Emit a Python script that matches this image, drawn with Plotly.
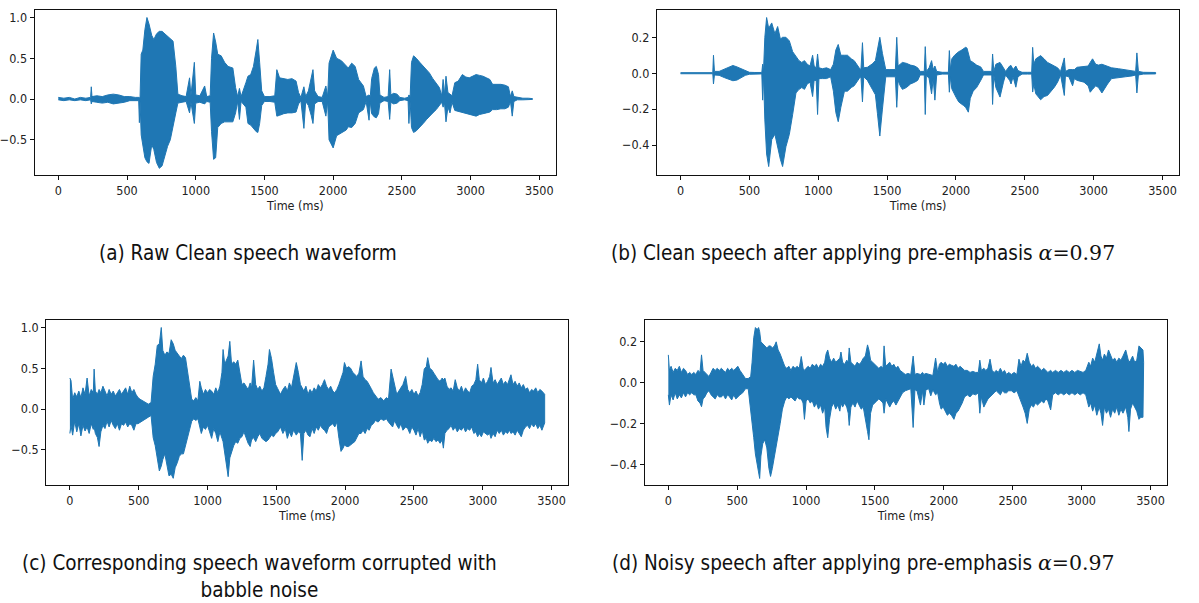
import plotly.graph_objects as go

BLUE = "#1f77b4"
W, H = 1199, 603

# ---------------------------------------------------------------------------
# Waveform envelopes: time (ms), upper peak and lower peak amplitude
# ---------------------------------------------------------------------------

# (a) raw clean speech
A_T = [0, 40, 80, 120, 160, 200, 235, 240, 245, 280, 320, 360, 400, 440, 480, 520, 560, 585, 590, 595,
       603, 615, 630, 645, 660, 680, 695, 715, 735, 755, 775, 795, 815, 835, 855, 870, 900, 930, 955, 965,
       990, 1000, 1030, 1065, 1080, 1105, 1115, 1130, 1145, 1160, 1185, 1210, 1235, 1270, 1290, 1305, 1318, 1330, 1365, 1380,
       1400, 1420, 1440, 1452, 1465, 1480, 1500, 1540, 1575, 1590, 1610, 1640, 1670, 1700, 1730, 1748, 1765, 1787, 1800, 1820,
       1840, 1853, 1865, 1890, 1920, 1947, 1960, 1970, 2000, 2025, 2060, 2095, 2110, 2135, 2160, 2185, 2220, 2240, 2261, 2270,
       2280, 2300, 2314, 2330, 2340, 2370, 2400, 2411, 2420, 2440, 2465, 2485, 2520, 2545, 2551, 2560, 2570, 2585, 2605, 2630,
       2655, 2680, 2700, 2725, 2750, 2773, 2790, 2800, 2810, 2821, 2835, 2850, 2865, 2885, 2910, 2940, 2965, 2990, 3015, 3040,
       3065, 3090, 3115, 3140, 3160, 3190, 3220, 3250, 3275, 3290, 3303, 3315, 3340, 3380, 3420, 3450]
A_HI = [0.02, 0.01, 0.02, 0.0, 0.02, 0.01, 0.02, 0.15, 0.03, 0.04, 0.03, 0.05, 0.06, 0.05, 0.03, 0.03, 0.02, 0.02, 0.02, 0.03,
        0.55, 0.60, 0.85, 1.0, 0.92, 0.78, 0.73, 0.80, 0.83, 0.83, 0.80, 0.77, 0.74, 0.71, 0.40, 0.06, 0.04, 0.03, 0.26, 0.04,
        0.45, 0.05, 0.04, 0.16, 0.03, 0.04, 0.50, 0.81, 0.70, 0.55, 0.53, 0.45, 0.40, 0.38, 0.14, 0.03, 0.13, 0.03, 0.20, 0.28,
        0.30, 0.40, 0.60, 0.73, 0.45, 0.10, 0.03, 0.03, 0.04, 0.36, 0.26, 0.25, 0.24, 0.25, 0.22, 0.08, 0.02, 0.15, 0.03, 0.10,
        0.25, 0.36, 0.10, 0.03, 0.02, 0.16, 0.03, 0.44, 0.60, 0.50, 0.47, 0.40, 0.38, 0.44, 0.40, 0.24, 0.16, 0.03, 0.05, 0.03,
        0.25, 0.38, 0.40, 0.30, 0.05, 0.02, 0.03, 0.36, 0.05, 0.07, 0.06, 0.02, 0.01, 0.02, 0.05, 0.03, 0.45, 0.53, 0.50, 0.45,
        0.40, 0.35, 0.32, 0.25, 0.20, 0.14, 0.04, 0.24, 0.06, 0.28, 0.08, 0.06, 0.04, 0.20, 0.22, 0.30, 0.27, 0.26, 0.28, 0.30,
        0.29, 0.28, 0.26, 0.24, 0.18, 0.18, 0.18, 0.17, 0.15, 0.03, 0.10, 0.03, 0.02, 0.01, 0.01, 0.005]
A_LO = [-0.01, -0.02, -0.01, -0.02, -0.01, -0.02, -0.01, -0.06, -0.03, -0.04, -0.05, -0.04, -0.06, -0.05, -0.04, -0.02, -0.02, -0.02, -0.29, -0.03,
        -0.44, -0.55, -0.72, -0.77, -0.79, -0.56, -0.62, -0.78, -0.85, -0.82, -0.70, -0.58, -0.50, -0.36, -0.17, -0.05, -0.04, -0.03, -0.17, -0.04,
        -0.30, -0.05, -0.04, -0.06, -0.03, -0.04, -0.40, -0.74, -0.72, -0.35, -0.30, -0.28, -0.28, -0.28, -0.17, -0.03, -0.25, -0.03, -0.10, -0.30,
        -0.32, -0.36, -0.40, -0.41, -0.30, -0.08, -0.03, -0.03, -0.04, -0.21, -0.20, -0.18, -0.17, -0.17, -0.16, -0.06, -0.02, -0.36, -0.03, -0.08,
        -0.20, -0.30, -0.06, -0.03, -0.03, -0.21, -0.03, -0.50, -0.60, -0.45, -0.42, -0.38, -0.34, -0.35, -0.30, -0.17, -0.13, -0.03, -0.26, -0.03,
        -0.18, -0.22, -0.23, -0.18, -0.05, -0.02, -0.03, -0.25, -0.04, -0.06, -0.05, -0.02, -0.01, -0.02, -0.30, -0.03, -0.35, -0.41, -0.39, -0.35,
        -0.30, -0.25, -0.21, -0.17, -0.13, -0.08, -0.04, -0.10, -0.05, -0.28, -0.10, -0.17, -0.04, -0.14, -0.15, -0.17, -0.18, -0.19, -0.20, -0.21,
        -0.19, -0.18, -0.17, -0.16, -0.13, -0.13, -0.12, -0.12, -0.10, -0.03, -0.21, -0.03, -0.01, -0.01, -0.01, -0.005]

# (b) clean speech after pre-emphasis
B_T = [0, 120, 234, 239, 246, 280, 320, 350, 380, 410, 440, 470, 500, 540, 590, 596, 602, 612, 625, 640,
       662, 685, 705, 725, 741, 765, 790, 814, 838, 860, 880, 900, 920, 940, 959, 970, 985, 995, 1005, 1030,
       1060, 1090, 1110, 1128, 1145, 1164, 1190, 1212, 1240, 1261, 1297, 1310, 1321, 1330, 1357, 1393, 1415, 1430, 1447, 1466,
       1490, 1520, 1560, 1570, 1580, 1595, 1611, 1640, 1670, 1700, 1722, 1740, 1770, 1777, 1785, 1805, 1823, 1835, 1847, 1860,
       1900, 1945, 1952, 1960, 1970, 1990, 2000, 2020, 2036, 2055, 2070, 2080, 2090, 2104, 2125, 2150, 2180, 2200, 2240, 2260,
       2266, 2275, 2290, 2320, 2345, 2360, 2390, 2400, 2415, 2435, 2450, 2480, 2520, 2550, 2557, 2565, 2580, 2615, 2640, 2665,
       2690, 2715, 2738, 2760, 2787, 2795, 2820, 2847, 2860, 2880, 2930, 2960, 2975, 2992, 3015, 3035, 3060, 3080, 3101, 3130,
       3180, 3230, 3280, 3305, 3314, 3325, 3360, 3450]
B_HI = [0.003, 0.002, 0.003, 0.10, 0.01, 0.01, 0.025, 0.035, 0.043, 0.035, 0.025, 0.012, 0.005, 0.004, 0.004, 0.05, 0.006, 0.20, 0.31, 0.25,
        0.28, 0.22, 0.26, 0.19, 0.20, 0.20, 0.18, 0.12, 0.09, 0.07, 0.06, 0.07, 0.05, 0.04, 0.10, 0.04, 0.03, 0.107, 0.03, 0.025,
        0.03, 0.02, 0.05, 0.13, 0.16, 0.10, 0.10, 0.10, 0.08, 0.07, 0.03, 0.02, 0.17, 0.03, 0.033, 0.052, 0.07, 0.126, 0.20, 0.11,
        0.02, 0.02, 0.02, 0.20, 0.04, 0.05, 0.06, 0.055, 0.045, 0.04, 0.03, 0.01, 0.01, 0.148, 0.01, 0.03, 0.07, 0.02, 0.04, 0.01,
        0.005, 0.005, 0.126, 0.02, 0.08, 0.10, 0.107, 0.12, 0.126, 0.135, 0.144, 0.14, 0.11, 0.07, 0.06, 0.045, 0.035, 0.01, 0.01, 0.01,
        0.107, 0.01, 0.05, 0.06, 0.03, 0.01, 0.04, 0.043, 0.02, 0.04, 0.015, 0.005, 0.005, 0.005, 0.144, 0.05, 0.08, 0.098, 0.08, 0.06,
        0.05, 0.04, 0.03, 0.01, 0.085, 0.01, 0.02, 0.02, 0.02, 0.033, 0.035, 0.04, 0.06, 0.08, 0.05, 0.045, 0.05, 0.045, 0.04, 0.03,
        0.025, 0.02, 0.015, 0.01, 0.113, 0.01, 0.005, 0.004]
B_LO = [-0.003, -0.003, -0.003, -0.06, -0.01, -0.012, -0.025, -0.035, -0.042, -0.038, -0.025, -0.012, -0.006, -0.004, -0.004, -0.15, -0.006, -0.26, -0.45, -0.52,
        -0.37, -0.34, -0.40, -0.48, -0.52, -0.41, -0.34, -0.23, -0.11, -0.09, -0.08, -0.09, -0.06, -0.05, -0.13, -0.04, -0.04, -0.23, -0.03, -0.03,
        -0.03, -0.02, -0.10, -0.22, -0.27, -0.19, -0.10, -0.10, -0.08, -0.07, -0.03, -0.02, -0.16, -0.02, -0.04, -0.09, -0.12, -0.226, -0.35, -0.20,
        -0.02, -0.02, -0.02, -0.19, -0.04, -0.07, -0.09, -0.08, -0.06, -0.05, -0.04, -0.01, -0.01, -0.23, -0.01, -0.03, -0.115, -0.03, -0.15, -0.01,
        -0.005, -0.005, -0.106, -0.02, -0.087, -0.12, -0.133, -0.16, -0.17, -0.18, -0.19, -0.20, -0.217, -0.14, -0.10, -0.08, -0.04, -0.01, -0.01, -0.01,
        -0.174, -0.01, -0.08, -0.133, -0.05, -0.01, -0.04, -0.06, -0.02, -0.078, -0.02, -0.005, -0.005, -0.005, -0.105, -0.06, -0.115, -0.148, -0.13, -0.124,
        -0.10, -0.078, -0.05, -0.01, -0.124, -0.015, -0.02, -0.07, -0.03, -0.04, -0.05, -0.07, -0.106, -0.09, -0.07, -0.08, -0.11, -0.09, -0.06, -0.03,
        -0.025, -0.02, -0.015, -0.01, -0.11, -0.01, -0.005, -0.004]

# (c) speech corrupted with babble noise
C_T = [0, 8, 20, 35, 50, 65, 80, 95, 110, 125, 140, 155, 170, 176, 185, 200, 212, 225, 240, 255,
       270, 285, 300, 315, 330, 345, 360, 375, 390, 405, 420, 435, 450, 465, 480, 495, 510, 530, 550, 570,
       590, 605, 620, 635, 650, 664, 675, 690, 705, 720, 736, 751, 765, 780, 795, 810, 825, 840, 855, 870,
       885, 900, 915, 930, 944, 955, 970, 985, 1000, 1015, 1030, 1045, 1060, 1075, 1090, 1105, 1113, 1125, 1140, 1150,
       1162, 1175, 1190, 1205, 1220, 1235, 1250, 1265, 1280, 1295, 1310, 1320, 1335, 1350, 1365, 1380, 1395, 1410, 1425, 1440,
       1450, 1465, 1480, 1495, 1510, 1530, 1548, 1565, 1580, 1595, 1610, 1625, 1645, 1660, 1675, 1688, 1700, 1715, 1730, 1745,
       1760, 1775, 1790, 1805, 1820, 1835, 1850, 1865, 1880, 1895, 1910, 1925, 1940, 1955, 1970, 1985, 1995, 2010, 2025, 2040,
       2055, 2070, 2085, 2100, 2116, 2130, 2145, 2160, 2175, 2190, 2205, 2220, 2240, 2260, 2280, 2300, 2315, 2334, 2345, 2360,
       2375, 2390, 2405, 2420, 2440, 2455, 2470, 2485, 2500, 2515, 2530, 2545, 2560, 2575, 2590, 2600, 2615, 2630, 2645, 2660,
       2675, 2690, 2705, 2714, 2725, 2740, 2755, 2770, 2785, 2800, 2815, 2830, 2845, 2860, 2875, 2890, 2905, 2920, 2935, 2950,
       2963, 2975, 2990, 3005, 3020, 3035, 3050, 3060, 3075, 3090, 3105, 3120, 3135, 3150, 3165, 3180, 3195, 3205, 3220, 3235,
       3250, 3265, 3280, 3295, 3310, 3325, 3340, 3355, 3370, 3385, 3400, 3415, 3430, 3450]
C_HI = [0.38, 0.35, 0.12, 0.20, 0.15, 0.22, 0.14, 0.26, 0.18, 0.38, 0.16, 0.24, 0.20, 0.49, 0.22, 0.18, 0.24, 0.20, 0.28, 0.22,
        0.16, 0.24, 0.18, 0.22, 0.16, 0.20, 0.24, 0.18, 0.22, 0.26, 0.18, 0.28, 0.20, 0.24, 0.18, 0.14, 0.12, 0.10, 0.08, 0.06,
        0.08, 0.40, 0.55, 0.78, 0.80, 1.00, 0.72, 0.66, 0.70, 0.68, 0.85, 0.80, 0.72, 0.68, 0.65, 0.62, 0.66, 0.63, 0.47, 0.28,
        0.12, 0.10, 0.14, 0.10, 0.34, 0.26, 0.18, 0.24, 0.20, 0.24, 0.22, 0.18, 0.26, 0.20, 0.28, 0.45, 0.73, 0.55, 0.60, 0.65,
        0.83, 0.55, 0.58, 0.55, 0.60, 0.45, 0.30, 0.32, 0.28, 0.24, 0.32, 0.26, 0.60, 0.30, 0.24, 0.28, 0.22, 0.26, 0.40, 0.55,
        0.73, 0.62, 0.45, 0.30, 0.25, 0.18, 0.24, 0.28, 0.22, 0.32, 0.26, 0.40, 0.57, 0.45, 0.30, 0.26, 0.22, 0.28, 0.18, 0.24,
        0.20, 0.26, 0.22, 0.30, 0.26, 0.30, 0.36, 0.28, 0.24, 0.28, 0.22, 0.20, 0.24, 0.30, 0.38, 0.45, 0.57, 0.50, 0.52, 0.50,
        0.45, 0.42, 0.40, 0.44, 0.59, 0.40, 0.36, 0.34, 0.30, 0.25, 0.20, 0.16, 0.12, 0.14, 0.10, 0.14, 0.12, 0.49, 0.40, 0.30,
        0.18, 0.22, 0.26, 0.30, 0.40, 0.24, 0.20, 0.24, 0.18, 0.22, 0.16, 0.20, 0.30, 0.49, 0.52, 0.63, 0.50, 0.48, 0.44, 0.40,
        0.36, 0.34, 0.38, 0.36, 0.38, 0.28, 0.24, 0.26, 0.22, 0.36, 0.26, 0.22, 0.28, 0.20, 0.26, 0.22, 0.20, 0.28, 0.30, 0.36,
        0.55, 0.36, 0.32, 0.38, 0.30, 0.34, 0.40, 0.51, 0.32, 0.36, 0.30, 0.34, 0.38, 0.30, 0.34, 0.30, 0.36, 0.42, 0.30, 0.34,
        0.28, 0.32, 0.26, 0.30, 0.24, 0.26, 0.20, 0.24, 0.22, 0.26, 0.20, 0.24, 0.22, 0.18]
C_LO = [-0.30, -0.20, -0.32, -0.15, -0.28, -0.18, -0.33, -0.20, -0.27, -0.22, -0.30, -0.18, -0.25, -0.22, -0.30, -0.35, -0.46, -0.28, -0.20, -0.24,
        -0.15, -0.22, -0.14, -0.20, -0.24, -0.18, -0.26, -0.18, -0.20, -0.16, -0.22, -0.18, -0.20, -0.26, -0.18, -0.18, -0.16, -0.14, -0.12, -0.10,
        -0.08, -0.35, -0.45, -0.60, -0.76, -0.70, -0.62, -0.55, -0.70, -0.82, -0.80, -0.85, -0.72, -0.66, -0.58, -0.55, -0.55, -0.45, -0.38, -0.25,
        -0.15, -0.12, -0.14, -0.12, -0.20, -0.30, -0.22, -0.25, -0.20, -0.28, -0.36, -0.24, -0.30, -0.40, -0.28, -0.36, -0.40, -0.50, -0.70, -0.83,
        -0.60, -0.55, -0.45, -0.40, -0.42, -0.36, -0.34, -0.28, -0.36, -0.42, -0.46, -0.38, -0.35, -0.40, -0.34, -0.30, -0.36, -0.38, -0.40, -0.38,
        -0.36, -0.32, -0.34, -0.30, -0.28, -0.22, -0.30, -0.24, -0.36, -0.28, -0.34, -0.26, -0.32, -0.28, -0.30, -0.63, -0.30, -0.26, -0.32, -0.34,
        -0.24, -0.30, -0.22, -0.26, -0.20, -0.24, -0.26, -0.30, -0.22, -0.20, -0.18, -0.22, -0.16, -0.36, -0.52, -0.48, -0.44, -0.46, -0.46, -0.44,
        -0.42, -0.40, -0.36, -0.30, -0.30, -0.26, -0.30, -0.24, -0.26, -0.20, -0.18, -0.14, -0.16, -0.12, -0.14, -0.12, -0.16, -0.20, -0.22, -0.14,
        -0.20, -0.24, -0.18, -0.26, -0.22, -0.24, -0.30, -0.22, -0.26, -0.32, -0.24, -0.34, -0.26, -0.38, -0.36, -0.42, -0.38, -0.40, -0.36, -0.40,
        -0.38, -0.42, -0.38, -0.48, -0.30, -0.26, -0.24, -0.20, -0.26, -0.22, -0.28, -0.24, -0.26, -0.22, -0.28, -0.24, -0.26, -0.22, -0.30, -0.28,
        -0.34, -0.30, -0.34, -0.28, -0.30, -0.32, -0.30, -0.36, -0.30, -0.34, -0.26, -0.30, -0.26, -0.32, -0.28, -0.30, -0.26, -0.30, -0.28, -0.32,
        -0.26, -0.30, -0.34, -0.26, -0.22, -0.20, -0.24, -0.18, -0.22, -0.18, -0.24, -0.20, -0.26, -0.17]

# (d) noisy speech after pre-emphasis
D_T = [0, 8, 20, 35, 50, 65, 80, 95, 110, 125, 140, 155, 170, 185, 200, 215, 230, 241, 252, 265,
       280, 295, 310, 325, 340, 355, 370, 385, 400, 415, 430, 445, 460, 475, 490, 505, 520, 540, 560, 580,
       598, 608, 620, 632, 645, 655, 663, 672, 685, 700, 715, 730, 742, 755, 770, 783, 797, 812, 828, 845,
       860, 875, 890, 905, 920, 935, 950, 965, 978, 988, 1000, 1015, 1030, 1045, 1060, 1075, 1090, 1105, 1120, 1135,
       1145, 1157, 1170, 1185, 1200, 1215, 1230, 1245, 1253, 1265, 1280, 1295, 1306, 1313, 1325, 1340, 1355, 1370, 1385, 1400,
       1415, 1430, 1446, 1456, 1468, 1483, 1498, 1513, 1528, 1545, 1558, 1566, 1578, 1592, 1607, 1622, 1637, 1652, 1667, 1682,
       1700, 1720, 1740, 1760, 1777, 1790, 1805, 1830, 1845, 1855, 1870, 1890, 1905, 1920, 1940, 1955, 1968, 1980, 1995, 2010,
       2025, 2040, 2055, 2073, 2088, 2103, 2118, 2133, 2150, 2170, 2190, 2210, 2230, 2250, 2261, 2272, 2290, 2305, 2320, 2335,
       2350, 2365, 2380, 2395, 2410, 2425, 2440, 2455, 2470, 2490, 2510, 2530, 2545, 2560, 2575, 2590, 2605, 2620, 2635, 2650,
       2665, 2680, 2695, 2710, 2725, 2740, 2755, 2775, 2790, 2810, 2830, 2850, 2870, 2890, 2910, 2930, 2950, 2970, 2990, 3010,
       3030, 3052, 3065, 3080, 3095, 3110, 3128, 3140, 3152, 3165, 3180, 3195, 3210, 3225, 3240, 3255, 3270, 3285, 3300, 3320,
       3335, 3343, 3355, 3370, 3385, 3400, 3416, 3430, 3445, 3450]
D_HI = [0.136, 0.06, 0.08, 0.05, 0.07, 0.06, 0.08, 0.05, 0.07, 0.06, 0.04, 0.05, 0.04, 0.05, 0.04, 0.06, 0.05, 0.136, 0.06, 0.05,
        0.04, 0.03, 0.05, 0.07, 0.06, 0.07, 0.06, 0.07, 0.06, 0.05, 0.07, 0.06, 0.07, 0.06, 0.07, 0.08, 0.06, 0.04, 0.02, 0.02,
        0.03, 0.10, 0.22, 0.27, 0.26, 0.27, 0.25, 0.20, 0.19, 0.18, 0.17, 0.18, 0.18, 0.17, 0.18, 0.20, 0.16, 0.14, 0.11, 0.08,
        0.07, 0.08, 0.06, 0.08, 0.07, 0.08, 0.07, 0.128, 0.07, 0.06, 0.07, 0.08, 0.07, 0.09, 0.08, 0.09, 0.07, 0.09, 0.08, 0.10,
        0.14, 0.16, 0.12, 0.10, 0.12, 0.10, 0.11, 0.12, 0.15, 0.10, 0.09, 0.11, 0.10, 0.17, 0.10, 0.09, 0.08, 0.10, 0.09, 0.10,
        0.12, 0.13, 0.185, 0.16, 0.11, 0.10, 0.09, 0.08, 0.07, 0.08, 0.07, 0.18, 0.08, 0.09, 0.10, 0.08, 0.09, 0.07, 0.08, 0.06,
        0.05, 0.04, 0.045, 0.04, 0.13, 0.04, 0.045, 0.04, 0.05, 0.04, 0.045, 0.04, 0.04, 0.035, 0.12, 0.05, 0.09, 0.10, 0.09, 0.10,
        0.08, 0.09, 0.085, 0.08, 0.09, 0.07, 0.08, 0.07, 0.06, 0.06, 0.05, 0.055, 0.05, 0.05, 0.11, 0.06, 0.07, 0.06, 0.07, 0.115,
        0.06, 0.05, 0.06, 0.05, 0.07, 0.05, 0.06, 0.04, 0.05, 0.04, 0.05, 0.04, 0.115, 0.08, 0.11, 0.10, 0.144, 0.10, 0.08, 0.09,
        0.07, 0.08, 0.07, 0.06, 0.07, 0.06, 0.05, 0.06, 0.05, 0.06, 0.05, 0.06, 0.05, 0.06, 0.05, 0.06, 0.05, 0.06, 0.055, 0.05,
        0.06, 0.10, 0.08, 0.12, 0.10, 0.14, 0.19, 0.13, 0.11, 0.14, 0.12, 0.16, 0.13, 0.11, 0.12, 0.10, 0.12, 0.11, 0.13, 0.16,
        0.12, 0.10, 0.11, 0.13, 0.10, 0.11, 0.18, 0.17, 0.16, 0.10]
D_LO = [-0.06, -0.11, -0.06, -0.085, -0.05, -0.08, -0.06, -0.075, -0.05, -0.07, -0.05, -0.06, -0.05, -0.06, -0.06, -0.09, -0.10, -0.118, -0.08, -0.07,
        -0.05, -0.04, -0.06, -0.07, -0.08, -0.06, -0.07, -0.07, -0.06, -0.08, -0.06, -0.07, -0.085, -0.06, -0.08, -0.07, -0.06, -0.05, -0.03, -0.03,
        -0.14, -0.20, -0.27, -0.35, -0.40, -0.44, -0.47, -0.36, -0.30, -0.28, -0.32, -0.42, -0.46, -0.42, -0.36, -0.32, -0.26, -0.20, -0.13, -0.09,
        -0.07, -0.08, -0.07, -0.08, -0.09, -0.07, -0.08, -0.08, -0.10, -0.18, -0.09, -0.08, -0.10, -0.09, -0.12, -0.10, -0.13, -0.11, -0.15, -0.12,
        -0.22, -0.27, -0.18, -0.12, -0.10, -0.13, -0.11, -0.14, -0.10, -0.12, -0.10, -0.12, -0.15, -0.21, -0.12, -0.10, -0.12, -0.09, -0.11, -0.13,
        -0.12, -0.18, -0.24, -0.28, -0.15, -0.11, -0.10, -0.09, -0.08, -0.09, -0.10, -0.15, -0.08, -0.10, -0.12, -0.10, -0.09, -0.11, -0.09, -0.07,
        -0.05, -0.04, -0.035, -0.03, -0.22, -0.035, -0.04, -0.11, -0.04, -0.11, -0.035, -0.03, -0.065, -0.035, -0.06, -0.05, -0.10, -0.13, -0.12, -0.14,
        -0.16, -0.15, -0.16, -0.18, -0.15, -0.14, -0.12, -0.10, -0.07, -0.06, -0.07, -0.055, -0.06, -0.05, -0.15, -0.07, -0.12, -0.10, -0.08, -0.07,
        -0.06, -0.05, -0.04, -0.05, -0.06, -0.04, -0.05, -0.05, -0.04, -0.04, -0.05, -0.04, -0.06, -0.09, -0.12, -0.15, -0.20, -0.13, -0.11, -0.12,
        -0.10, -0.11, -0.10, -0.09, -0.10, -0.08, -0.09, -0.134, -0.06, -0.05, -0.06, -0.05, -0.06, -0.05, -0.06, -0.05, -0.06, -0.05, -0.06, -0.05,
        -0.06, -0.12, -0.10, -0.14, -0.11, -0.16, -0.12, -0.15, -0.21, -0.12, -0.15, -0.13, -0.17, -0.13, -0.15, -0.12, -0.16, -0.13, -0.15, -0.12,
        -0.17, -0.24, -0.13, -0.10, -0.12, -0.14, -0.18, -0.17, -0.17, -0.10]

X_TICKS = [0, 500, 1000, 1500, 2000, 2500, 3000, 3500]
Y_TICKS_WIDE = [-0.5, 0.0, 0.5, 1.0]
Y_TICKS_NARROW = [-0.4, -0.2, 0.0, 0.2]

ALPHA = "<span style='font-family:DejaVu Serif'><i>α</i>=0.97</span>"
CAPTIONS = [
    "(a) Raw Clean speech waveform",
    "(b) Clean speech after applying pre-emphasis " + ALPHA,
    "(c) Corresponding speech waveform corrupted with<br>babble noise",
    "(d) Noisy speech after applying pre-emphasis " + ALPHA,
]

# panel frames in pixels: left, right, top, bottom
FRAMES = [(30.7, 554.0, 10, 175), (655.0, 1179.3, 10, 175),
          (42.3, 566.3, 320, 485), (642.7, 1167.3, 320, 485)]
Y_RANGES = [(-0.932, 1.092), (-0.567, 0.352), (-0.932, 1.092), (-0.502, 0.307)]
CAPTION_POS = [(245, 253), (862, 253), (256, 576), (862, 563)]

PANELS = [(A_T, A_HI, A_LO, Y_TICKS_WIDE), (B_T, B_HI, B_LO, Y_TICKS_NARROW),
          (C_T, C_HI, C_LO, Y_TICKS_WIDE), (D_T, D_HI, D_LO, Y_TICKS_NARROW)]

TICK_FONT = dict(family="Liberation Sans Narrow, DejaVu Sans Condensed, Arial Narrow, sans-serif",
                 size=12.5, color="#222222")
CAP_FONT = dict(family="DejaVu Sans Condensed, Tahoma, DejaVu Sans, sans-serif", size=20.5, color="#111111")


def fmt(v):
    return f"{v:.1f}".replace("-", "\u2212")


fig = go.Figure()
layout = dict(width=W, height=H, margin=dict(l=0, r=0, t=0, b=0),
              paper_bgcolor="white", plot_bgcolor="white", showlegend=False,
              annotations=[])

for i, ((t, hi, lo, yt), (l, r, top, bot), yr) in enumerate(zip(PANELS, FRAMES, Y_RANGES)):
    assert len(t) == len(hi) == len(lo)
    n = "" if i == 0 else str(i + 1)
    # closed envelope: upper peaks forward, lower peaks backward
    fig.add_trace(go.Scatter(
        x=list(t) + list(t)[::-1], y=list(hi) + list(lo)[::-1],
        mode="lines", fill="toself", fillcolor=BLUE,
        line=dict(color=BLUE, width=1), hoverinfo="skip",
        xaxis="x" + n, yaxis="y" + n))
    common = dict(showline=True, mirror=True, linecolor="#111111", linewidth=1,
                  ticks="outside", ticklen=4, tickwidth=1, tickcolor="#111111",
                  showgrid=False, zeroline=False, tickfont=TICK_FONT)
    layout["xaxis" + n] = dict(domain=[l / W, r / W], range=[-172.5, 3622.5],
                               anchor="y" + n, tickvals=X_TICKS,
                               ticktext=[str(v) for v in X_TICKS],
                               title=dict(text="Time (ms)", standoff=2, font=TICK_FONT),
                               **common)
    layout["yaxis" + n] = dict(domain=[1 - bot / H, 1 - top / H], range=list(yr),
                               anchor="x" + n, tickvals=yt,
                               ticktext=[fmt(v) for v in yt], **common)

for text, (cx, cy) in zip(CAPTIONS, CAPTION_POS):
    layout["annotations"].append(dict(
        text=text, x=cx / W, y=1 - cy / H, xref="paper", yref="paper",
        xanchor="center", yanchor="middle", showarrow=False, font=CAP_FONT, align="center"))

fig.update_layout(**layout)
fig.write_html("out.html")
